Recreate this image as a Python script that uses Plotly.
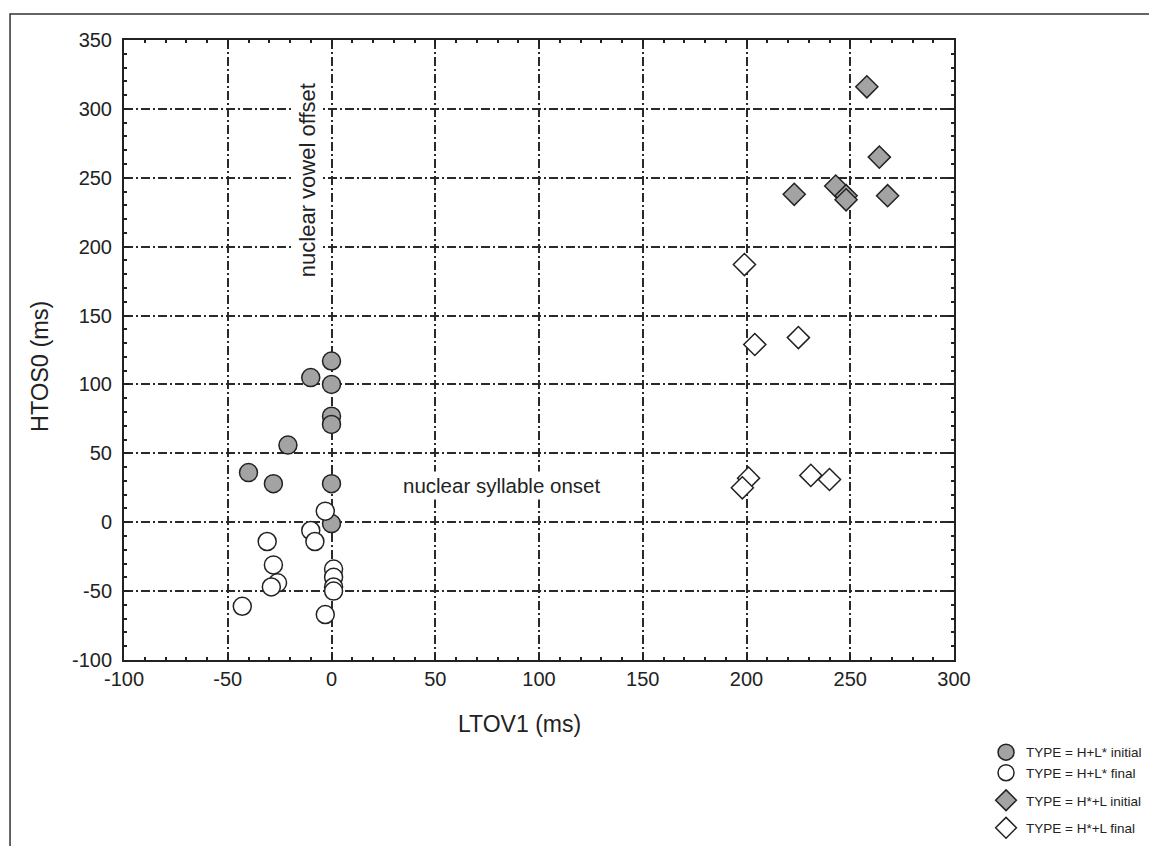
import plotly.graph_objects as go

# H+L* initial (grey circles)
hl_init_x = [-10, 0, 0, 0, 0, -21, -40, -28, 0, 0]
hl_init_y = [105, 117, 100, 77, 71, 56, 36, 28, 28, -1]
# H+L* final (open circles)
hl_fin_x = [-3, -10, -8, -31, -28, -26, -29, -43, 1, 1, 1, 1, -3]
hl_fin_y = [8, -6, -14, -14, -31, -44, -47, -61, -34, -40, -47, -50, -67]
# H*+L initial (grey diamonds)
hsl_init_x = [258, 264, 223, 243, 248, 248, 268]
hsl_init_y = [316, 265, 238, 244, 237, 234, 237]
# H*+L final (open diamonds)
hsl_fin_x = [199, 204, 225, 201, 198, 231, 240]
hsl_fin_y = [187, 129, 134, 32, 25, 34, 31]

names = ["TYPE = H+L* initial", "TYPE = H+L* final", "TYPE = H*+L initial", "TYPE = H*+L final"]
groups = ["a", "a", "b", "c"]

x_tickvals = [-100, -50, 0, 50, 100, 150, 200, 250, 300]
x_ticktext = ["-100", "-50", "0", "50", "100", "150", "200", "250", "300"]
y_tickvals = [-100, -50, 0, 50, 100, 150, 200, 250, 300, 350]
y_ticktext = ["-100", "-50", "0", "50", "100", "150", "200", "250", "300", "350"]

ink = "#222222"
grey = "#a3a3a3"
fontfam = "Liberation Sans, Arial, sans-serif"

fig = go.Figure()
series = [
    (hl_init_x, hl_init_y, "circle", grey, 18),
    (hl_fin_x, hl_fin_y, "circle", "white", 18),
    (hsl_init_x, hsl_init_y, "diamond", grey, 17),
    (hsl_fin_x, hsl_fin_y, "diamond", "white", 17),
]
for (xs, ys, sym, fill, sz), nm, g in zip(series, names, groups):
    fig.add_trace(go.Scatter(
        x=xs, y=ys, mode="markers", name=nm, legendgroup=g,
        marker=dict(symbol=sym, size=sz, color=fill, line=dict(color=ink, width=1.5)),
    ))

axis_common = dict(
    showline=True, linecolor=ink, linewidth=2, mirror="allticks",
    showgrid=True, gridcolor="#2a2a2a", gridwidth=1.6, griddash="9px,3px,2px,3px",
    zeroline=False, ticks="inside", ticklen=6, tickwidth=1.5, tickcolor=ink,
    tickfont=dict(family=fontfam, size=20, color=ink),
    minor=dict(ticks="inside", ticklen=3, tickwidth=2, tickcolor=ink, dtick=10, showgrid=False),
)

fig.update_xaxes(range=[-100, 300], tickmode="array", tickvals=x_tickvals, ticktext=x_ticktext, **axis_common)
fig.update_yaxes(range=[-100, 350], tickmode="array", tickvals=y_tickvals, ticktext=y_ticktext,
                 ticklabelstandoff=6, **axis_common)

# axis titles
fig.add_annotation(xref="paper", yref="paper", x=0.477, y=-0.1032, text="LTOV1 (ms)", showarrow=False,
                   xanchor="center", yanchor="middle", font=dict(family=fontfam, size=23, color=ink))
fig.add_annotation(xref="paper", yref="paper", x=-0.1012, y=0.4726, text="HTOS0 (ms)", showarrow=False,
                   textangle=-90, xanchor="center", yanchor="middle",
                   font=dict(family=fontfam, size=23.5, color=ink))

fig.add_annotation(x=-11.5, y=248, text="nuclear vowel offset", textangle=-90, showarrow=False,
                   bgcolor="white", borderpad=2,
                   font=dict(family=fontfam, size=22, color=ink))
fig.add_annotation(x=81.7, y=27, text="nuclear syllable onset", showarrow=False,
                   bgcolor="white", borderpad=2,
                   font=dict(family=fontfam, size=20.5, color=ink))

# outer frame (top and left)
fig.add_shape(type="path", xref="paper", yref="paper",
              path="M -0.1373,-0.32 L -0.1373,1.0419 L 1.27,1.0419",
              line=dict(color="#333333", width=1.5))

fig.update_layout(
    width=1157, height=846,
    margin=dict(l=116, r=211, t=32, b=194, autoexpand=False),
    plot_bgcolor="white", paper_bgcolor="white",
    font=dict(family=fontfam, color=ink),
    showlegend=True,
    legend=dict(x=1.0386, y=-0.124, xanchor="left", yanchor="top", traceorder="grouped",
                font=dict(family=fontfam, size=13.5, color=ink),
                bgcolor="rgba(0,0,0,0)", tracegroupgap=7, itemwidth=30),
)

fig.write_html("out.html")
